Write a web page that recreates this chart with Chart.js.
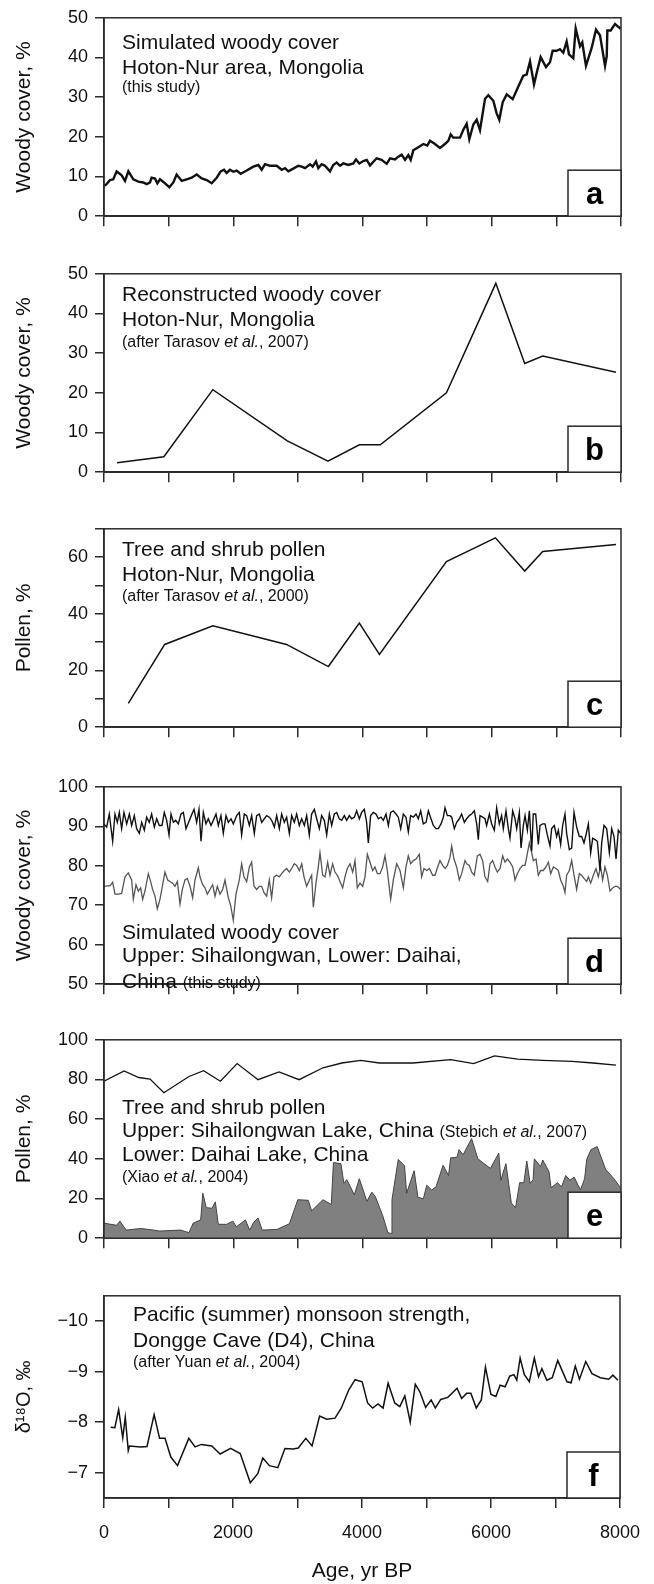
<!DOCTYPE html>
<html>
<head>
<meta charset="utf-8">
<script src="https://cdn.jsdelivr.net/npm/chart.js@4.4.1/dist/chart.umd.min.js"></script>
<style>
  body { margin: 0; background: #fff; }
  #wrap { position: relative; width: 654px; height: 1584px; overflow: hidden; }
  .panel { position: absolute; left: 0; }
</style>
</head>
<body>
<div id="wrap"></div>
<script>
// ---- shared x axis ----
const xTicks = [0, 1000, 2000, 3000, 4000, 5000, 6000, 7000, 8000];

// ---- panel a: simulated woody cover, Hoton-Nur ----
const ageA = [
  0, 31, 93, 144, 196, 273, 325, 377, 454, 531,
  608, 660, 712, 737, 789, 825, 867, 928, 1011, 1073,
  1124, 1202, 1279, 1357, 1434, 1512, 1589, 1666, 1744, 1806,
  1857, 1898, 1950, 2001, 2053, 2115, 2208, 2310, 2388, 2440,
  2491, 2569, 2672, 2750, 2801, 2852, 2929, 3007, 3059, 3110,
  3188, 3229, 3280, 3316, 3368, 3420, 3497, 3548, 3600, 3652,
  3703, 3780, 3858, 3899, 3951, 4013, 4065, 4116, 4219, 4296,
  4374, 4426, 4503, 4554, 4606, 4658, 4709, 4746, 4786, 4864,
  4941, 5003, 5044, 5121, 5199, 5276, 5328, 5365, 5405, 5509,
  5560, 5612, 5653, 5715, 5767, 5818, 5896, 5947, 6024, 6076,
  6117, 6169, 6231, 6324, 6411, 6488, 6540, 6592, 6654, 6705,
  6757, 6839, 6901, 6942, 7004, 7056, 7107, 7159, 7195, 7262,
  7299, 7366, 7401, 7458, 7546, 7613, 7675, 7753, 7779, 7789,
  7841, 7907, 7995
];
const coverA = [
  7.7, 7.9, 9.1, 9.3, 11.3, 10.3, 8.9, 11.3, 9.3, 8.7,
  8.5, 8.1, 8.5, 9.7, 9.5, 8.3, 9.3, 8.5, 7.3, 8.5,
  10.5, 8.9, 9.3, 9.7, 10.5, 9.5, 9.1, 8.3, 9.7, 11.3,
  11.7, 10.9, 11.7, 11.2, 11.5, 10.7, 11.5, 12.5, 12.9, 11.7,
  13.1, 12.7, 12.7, 11.7, 12.1, 11.3, 12.0, 12.7, 12.5, 12.1,
  13.1, 12.5, 13.8, 12.1, 13.1, 12.7, 11.3, 12.9, 13.5, 12.7,
  13.3, 12.9, 13.3, 14.3, 13.3, 13.9, 14.2, 12.8, 14.6, 14.2,
  13.2, 14.6, 14.3, 15.0, 15.5, 14.2, 15.4, 14.2, 16.6, 17.4,
  18.2, 17.8, 19.0, 18.2, 17.2, 18.2, 19.0, 20.6, 19.8, 19.8,
  21.8, 23.3, 19.4, 23.1, 24.3, 21.7, 29.6, 30.5, 29.1, 25.9,
  24.3, 28.7, 30.7, 29.5, 32.7, 35.4, 35.7, 39.0, 33.2, 36.8,
  40.1, 37.6, 38.8, 41.7, 41.7, 42.1, 41.2, 44.0, 40.8, 39.8,
  47.3, 42.8, 43.8, 37.9, 42.4, 47.0, 45.6, 37.9, 40.3, 46.8,
  46.8, 48.4, 47.2
];
const ticksA = [0, 10, 20, 30, 40, 50];

// ---- panel b: reconstructed woody cover ----
const ageB = [201, 926, 1684, 2837, 3466, 3951, 4275, 5299, 6063, 6510, 6789, 7922];
const coverB = [2.4, 3.9, 20.8, 7.9, 2.8, 6.9, 6.9, 20.0, 47.6, 27.4, 29.3, 25.2];
const ticksB = [0, 10, 20, 30, 40, 50];

// ---- panel c: tree and shrub pollen, Hoton-Nur ----
const ageC = [376, 939, 1684, 2824, 3472, 3951, 4262, 5299, 6057, 6510, 6789, 7922];
const pollenC = [8.4, 29.2, 35.8, 29.2, 21.4, 36.7, 25.7, 58.4, 66.8, 55.1, 62.0, 64.5];
const ticksC = [0, 10, 20, 30, 40, 50, 60, 70];

// ---- panel d: simulated woody cover, Sihailongwan (upper) and Daihai (lower) ----
const ageDUpper = [
  0, 41, 82, 134, 170, 206, 237, 273, 309, 351,
  392, 428, 469, 505, 547, 583, 624, 660, 701, 737,
  779, 815, 856, 897, 933, 970, 1006, 1037, 1073, 1109,
  1150, 1191, 1228, 1269, 1310, 1351, 1393, 1434, 1470, 1501,
  1537, 1578, 1614, 1656, 1692, 1733, 1769, 1810, 1846, 1888,
  1924, 1965, 2001, 2053, 2094, 2130, 2171, 2208, 2249, 2285,
  2326, 2362, 2404, 2440, 2481, 2517, 2558, 2594, 2636, 2672,
  2713, 2749, 2790, 2826, 2868, 2904, 2945, 2981, 3022, 3059,
  3100, 3136, 3177, 3213, 3255, 3291, 3332, 3368, 3409, 3446,
  3487, 3523, 3564, 3600, 3641, 3678, 3719, 3755, 3796, 3832,
  3874, 3910, 3951, 3987, 4028, 4064, 4090, 4126, 4168, 4209,
  4245, 4286, 4322, 4364, 4400, 4436, 4477, 4518, 4554, 4591,
  4632, 4673, 4709, 4745, 4787, 4828, 4864, 4900, 4941, 4983,
  5019, 5060, 5096, 5137, 5173, 5215, 5251, 5277, 5313, 5354,
  5380, 5421, 5457, 5498, 5534, 5576, 5612, 5653, 5689, 5730,
  5767, 5792, 5818, 5859, 5895, 5921, 5963, 5999, 6040, 6076,
  6117, 6153, 6179, 6220, 6257, 6282, 6324, 6360, 6386, 6427,
  6453, 6489, 6515, 6551, 6582, 6618, 6643, 6680, 6721, 6747,
  6788, 6824, 6860, 6901, 6927, 6968, 7004, 7030, 7066, 7097,
  7133, 7159, 7200, 7237, 7273, 7314, 7355, 7391, 7427, 7458,
  7495, 7531, 7562, 7598, 7634, 7675, 7701, 7737, 7778, 7820,
  7856, 7892, 7923, 7959, 7995
];
const coverDUpper = [
  90.5, 89.8, 93.1, 86.2, 93.1, 91.0, 93.5, 89.4, 93.5, 90.6,
  93.1, 90.2, 92.7, 89.4, 88.2, 91.0, 89.0, 92.3, 91.0, 93.1,
  89.8, 91.9, 90.2, 90.2, 93.5, 91.5, 87.8, 93.1, 91.0, 91.5,
  90.6, 93.1, 93.5, 89.4, 91.0, 92.7, 94.3, 91.0, 94.3, 86.2,
  93.5, 90.6, 91.9, 90.2, 91.5, 93.1, 90.2, 92.7, 88.2, 92.7,
  91.0, 91.9, 90.6, 92.7, 93.5, 87.8, 93.1, 92.7, 90.2, 92.7,
  88.2, 92.7, 93.1, 91.0, 91.9, 92.7, 92.3, 91.5, 89.8, 92.7,
  89.4, 93.1, 91.0, 92.3, 88.2, 92.7, 91.0, 93.1, 90.2, 91.9,
  90.2, 92.7, 87.8, 93.1, 94.3, 91.9, 89.4, 92.7, 91.5, 87.8,
  93.1, 90.2, 93.1, 93.5, 91.9, 91.5, 92.7, 91.5, 92.7, 91.9,
  92.3, 93.9, 91.9, 93.5, 94.3, 91.0, 85.8, 92.7, 93.5, 93.1,
  91.9, 92.3, 91.5, 93.1, 90.2, 93.5, 93.9, 93.1, 92.3, 89.4,
  93.1, 92.3, 88.6, 92.7, 92.3, 93.1, 91.9, 93.9, 90.6, 91.0,
  93.9, 91.9, 90.2, 89.4, 89.4, 90.6, 92.3, 94.7, 92.7, 92.7,
  92.3, 89.4, 91.0, 91.9, 93.1, 91.0, 91.9, 92.7, 93.1, 93.9,
  90.6, 86.6, 92.7, 92.3, 91.9, 90.2, 93.1, 90.6, 89.0, 94.7,
  90.6, 92.7, 89.4, 93.9, 89.4, 87.0, 93.9, 91.9, 89.4, 93.5,
  84.5, 90.2, 92.7, 89.0, 93.9, 83.7, 93.1, 93.1, 85.4, 90.2,
  90.6, 90.6, 87.8, 85.0, 89.4, 90.2, 87.4, 89.0, 85.4, 90.2,
  93.1, 88.2, 84.1, 84.5, 93.5, 89.8, 87.4, 87.4, 85.8, 87.8,
  90.6, 83.3, 87.0, 86.6, 86.2, 78.8, 85.8, 90.2, 89.4, 83.3,
  89.4, 87.4, 81.7, 89.0, 88.2
];
const ageDLower = [
  0, 51, 93, 134, 170, 222, 273, 325, 376, 428,
  454, 495, 531, 567, 598, 634, 686, 722, 753, 789,
  825, 866, 908, 944, 985, 1021, 1062, 1099, 1135, 1176,
  1212, 1253, 1289, 1331, 1372, 1408, 1460, 1485, 1527, 1563,
  1599, 1640, 1681, 1718, 1754, 1795, 1836, 1872, 1924, 1960,
  2001, 2042, 2094, 2130, 2166, 2208, 2249, 2285, 2321, 2362,
  2404, 2440, 2476, 2517, 2558, 2594, 2630, 2672, 2713, 2749,
  2790, 2826, 2868, 2904, 2945, 2981, 3022, 3059, 3095, 3136,
  3177, 3213, 3239, 3280, 3316, 3342, 3384, 3420, 3461, 3497,
  3538, 3574, 3611, 3652, 3693, 3729, 3765, 3807, 3848, 3884,
  3920, 3961, 4003, 4039, 4075, 4116, 4157, 4193, 4230, 4271,
  4312, 4348, 4384, 4436, 4477, 4529, 4580, 4632, 4673, 4709,
  4745, 4787, 4828, 4879, 4915, 4952, 4993, 5034, 5086, 5122,
  5163, 5199, 5240, 5277, 5313, 5354, 5380, 5416, 5457, 5498,
  5534, 5586, 5612, 5653, 5689, 5730, 5777, 5818, 5859, 5895,
  5937, 5973, 6014, 6050, 6086, 6128, 6169, 6205, 6241, 6282,
  6324, 6360, 6396, 6437, 6478, 6515, 6540, 6582, 6618, 6643,
  6685, 6721, 6757, 6798, 6839, 6876, 6912, 6953, 6994, 7030,
  7066, 7108, 7133, 7159, 7200, 7237, 7273, 7314, 7355, 7391,
  7427, 7469, 7495, 7531, 7572, 7613, 7649, 7685, 7716, 7752,
  7789, 7830, 7871, 7907, 7943, 7995
];
const coverDLower = [
  74.8, 74.9, 74.9, 75.8, 72.8, 72.8, 73.0, 77.2, 78.2, 76.4,
  71.5, 75.2, 73.6, 74.4, 71.5, 73.6, 78.0, 76.0, 74.0, 72.3,
  69.1, 71.5, 75.2, 78.4, 76.4, 76.0, 75.6, 74.8, 76.0, 70.3,
  74.0, 76.4, 76.8, 74.8, 71.9, 76.4, 79.5, 77.2, 75.2, 74.4,
  72.8, 74.0, 75.2, 72.3, 74.8, 72.8, 74.0, 76.4, 71.9, 69.9,
  66.2, 72.8, 76.4, 80.5, 77.2, 76.0, 79.7, 80.9, 74.8, 74.0,
  74.8, 74.8, 73.2, 72.3, 76.4, 71.9, 77.2, 77.6, 77.2, 78.0,
  78.8, 79.3, 78.4, 79.3, 80.5, 80.1, 78.8, 80.5, 77.2, 74.8,
  76.4, 77.6, 69.5, 75.6, 79.7, 83.3, 77.6, 77.2, 80.9, 77.6,
  80.5, 78.4, 77.6, 76.0, 74.4, 77.2, 79.3, 80.5, 78.4, 81.3,
  74.4, 75.6, 74.8, 77.2, 82.9, 80.9, 78.8, 79.7, 78.0, 78.0,
  79.7, 82.5, 78.8, 71.5, 76.4, 80.5, 78.8, 74.4, 79.7, 82.5,
  80.5, 81.3, 81.7, 82.9, 77.2, 79.3, 78.8, 79.3, 77.6, 77.6,
  79.7, 81.3, 80.1, 79.3, 80.1, 82.1, 85.0, 81.7, 79.7, 76.4,
  78.0, 81.3, 80.5, 80.1, 78.4, 77.6, 82.5, 82.9, 81.3, 77.2,
  76.0, 80.5, 81.3, 79.7, 78.4, 79.3, 82.5, 80.9, 81.7, 80.9,
  79.7, 76.4, 78.0, 79.3, 80.1, 80.1, 82.1, 85.8, 83.3, 81.3,
  81.7, 77.6, 78.8, 78.8, 79.7, 80.9, 78.0, 79.7, 79.3, 78.8,
  76.4, 74.8, 73.2, 77.6, 78.8, 81.3, 77.6, 74.0, 78.0, 77.6,
  76.8, 76.0, 77.2, 75.6, 77.6, 79.3, 77.2, 79.7, 76.4, 79.7,
  77.6, 73.6, 74.4, 74.8, 74.8, 74.0
];
const ticksD = [50, 60, 70, 80, 90, 100];

// ---- panel e: tree and shrub pollen, Sihailongwan (upper) and Daihai (lower) ----
const ageEUpper = [
  0, 311, 538, 713, 926, 1315, 1542, 1801, 2060, 2384,
  2708, 3019, 3388, 3680, 3971, 4262, 4781, 5364, 5720, 6044,
  6401, 6789, 7243, 7567, 7922
];
const pollenEUpper = [
  79.1, 84.3, 81.0, 80.2, 73.3, 81.5, 84.4, 79.1, 88.0, 79.9,
  83.8, 79.9, 85.9, 88.3, 89.6, 88.3, 88.3, 90.0, 88.0, 91.9,
  90.3, 89.6, 89.1, 88.3, 87.2
];
const ageELower = [
  0, 194, 246, 343, 570, 764, 862, 1186, 1315, 1380,
  1496, 1529, 1581, 1671, 1723, 1768, 1898, 1995, 2047, 2189,
  2254, 2319, 2384, 2448, 2675, 2869, 2999, 3161, 3213, 3388,
  3517, 3550, 3666, 3712, 3757, 3874, 3951, 4068, 4145, 4197,
  4314, 4392, 4443, 4456, 4553, 4650, 4683, 4799, 4858, 4942,
  4994, 5072, 5137, 5247, 5331, 5364, 5461, 5494, 5558, 5623,
  5688, 5785, 5979, 6109, 6141, 6219, 6303, 6368, 6432, 6497,
  6542, 6594, 6640, 6659, 6756, 6789, 6886, 6918, 7016, 7080,
  7145, 7210, 7275, 7372, 7437, 7469, 7534, 7631, 7761, 7890,
  8000
];
const pollenELower = [
  7.6, 6.5, 8.6, 4.1, 4.9, 4.1, 3.6, 4.1, 2.8, 7.6,
  9.2, 22.7, 15.4, 15.1, 18.3, 7.0, 7.0, 8.6, 5.7, 9.2,
  4.1, 8.1, 10.2, 4.1, 4.4, 7.3, 19.4, 19.1, 13.8, 19.4,
  17.0, 38.1, 37.6, 27.6, 29.5, 21.9, 30.0, 18.6, 23.2, 21.1,
  11.3, 2.8, 2.4, 19.4, 39.7, 36.5, 22.7, 34.0, 20.6, 19.9,
  26.7, 24.3, 25.9, 36.8, 31.6, 40.5, 40.8, 44.6, 42.1, 46.2,
  50.2, 40.0, 35.2, 42.9, 29.2, 37.6, 17.8, 15.4, 28.0, 27.9,
  38.9, 27.6, 29.5, 40.0, 36.1, 39.4, 33.5, 25.4, 28.0, 25.9,
  31.6, 29.2, 30.8, 24.3, 30.0, 39.7, 44.6, 46.2, 34.8, 30.0,
  25.1
];
const ticksE = [0, 20, 40, 60, 80, 100];

// ---- panel f: Dongge Cave d18O ----
const ageF = [
  104, 168, 227, 291, 330, 376, 395, 570, 667, 777,
  862, 946, 1036, 1140, 1315, 1412, 1509, 1671, 1801, 1963,
  2112, 2268, 2384, 2462, 2565, 2695, 2805, 2934, 3012, 3129,
  3226, 3343, 3453, 3582, 3680, 3796, 3893, 4003, 4087, 4165,
  4249, 4327, 4405, 4508, 4586, 4664, 4748, 4826, 4897, 4987,
  5072, 5137, 5221, 5331, 5474, 5545, 5623, 5688, 5772, 5850,
  5914, 5999, 6076, 6141, 6219, 6290, 6355, 6400, 6452, 6517,
  6594, 6672, 6737, 6789, 6866, 6950, 7035, 7113, 7178, 7243,
  7307, 7372, 7469, 7566, 7696, 7825, 7890, 7968
];
const d18oF = [
  -7.90, -7.89, -8.25, -7.69, -8.10, -7.44, -7.53, -7.51, -7.52, -8.15,
  -7.68, -7.68, -7.31, -7.14, -7.68, -7.51, -7.56, -7.53, -7.37, -7.48,
  -7.38, -6.80, -6.98, -7.29, -7.14, -7.10, -7.48, -7.47, -7.49, -7.68,
  -7.53, -8.12, -8.06, -8.08, -8.28, -8.64, -8.84, -8.80, -8.38, -8.28,
  -8.36, -8.28, -8.77, -8.38, -8.31, -8.52, -8.00, -8.75, -8.60, -8.29,
  -8.44, -8.28, -8.45, -8.49, -8.67, -8.47, -8.57, -8.57, -8.28, -8.44,
  -9.09, -8.55, -8.51, -8.73, -8.70, -8.91, -8.94, -8.83, -9.27, -8.94,
  -8.80, -9.27, -8.90, -9.06, -8.83, -8.88, -9.22, -8.99, -8.80, -8.78,
  -9.11, -8.85, -9.20, -8.96, -8.88, -8.85, -8.93, -8.83
];
const ticksF = [-10, -9, -8, -7];

// ---- drawing ----
const FONT = '"Liberation Sans", Arial, Helvetica, sans-serif';
const INK = '#2a2a2a';
const BIG = '21px ' + FONT;
const SMALL = '16px ' + FONT;
const SMALL_I = 'italic 16px ' + FONT;

function pts(xs, ys) {
  return xs.map((x, i) => ({ x: x, y: ys[i] }));
}

function drawRuns(ctx, x, y, runs) {
  runs.forEach(([txt, font]) => {
    ctx.font = font;
    ctx.fillText(txt, x, y);
    x += ctx.measureText(txt).width;
  });
}

// frame box, panel letter and the text notes inside the plot
function decoPlugin(p) {
  return {
    id: 'deco',
    afterDatasetsDraw(chart) {
      const { ctx, chartArea: a } = chart;
      ctx.save();
      ctx.strokeStyle = INK;
      ctx.lineWidth = 1.5;
      ctx.strokeRect(a.left, a.top, a.right - a.left, a.bottom - a.top);

      const bw = 53, bh = 46;
      ctx.fillStyle = '#fff';
      ctx.fillRect(a.right - bw, a.bottom - bh, bw, bh);
      ctx.strokeRect(a.right - bw, a.bottom - bh, bw, bh);
      ctx.fillStyle = '#000';
      ctx.font = 'bold 31px ' + FONT;
      ctx.textAlign = 'center';
      ctx.textBaseline = 'alphabetic';
      ctx.fillText(p.letter, a.right - bw / 2, a.bottom - 12);

      ctx.textAlign = 'left';
      ctx.fillStyle = '#111';
      p.notes.forEach(n => drawRuns(ctx, a.left + p.noteX, a.top + n.dy, n.runs));
      ctx.restore();
    }
  };
}

const wrap = document.getElementById('wrap');

function makePanel(p) {
  const div = document.createElement('div');
  div.className = 'panel';
  div.style.top = p.top + 'px';
  const cv = document.createElement('canvas');
  cv.width = 654;
  cv.height = p.height;
  cv.style.width = '654px';
  cv.style.height = p.height + 'px';
  div.appendChild(cv);
  wrap.appendChild(div);

  new Chart(cv, {
    type: 'line',
    data: { datasets: p.datasets },
    options: {
      responsive: false,
      animation: false,
      events: [],
      layout: { padding: { top: 14, right: 33, bottom: 0, left: 0 } },
      plugins: { legend: { display: false }, tooltip: { enabled: false } },
      elements: { point: { radius: 0 }, line: { tension: 0 } },
      scales: {
        x: {
          type: 'linear',
          min: 0,
          max: 8000,
          afterBuildTicks: s => { s.ticks = xTicks.map(v => ({ value: v })); },
          afterFit: s => { s.height = p.xh; },
          grid: { drawOnChartArea: false, drawTicks: true, tickLength: 10, color: INK, lineWidth: 1.5 },
          border: { display: true, color: INK, width: 1.5 },
          ticks: {
            display: !!p.xLabels,
            padding: 14,
            color: '#111',
            font: { family: FONT, size: 18 },
            maxRotation: 0,
            callback: v => (v % 2000 === 0 ? String(v) : '')
          },
          title: {
            display: !!p.xLabels,
            text: 'Age, yr BP',
            color: '#111',
            font: { family: FONT, size: 21 },
            padding: { top: 0, bottom: 0 }
          }
        },
        y: {
          type: 'linear',
          min: p.yMin,
          max: p.yMax,
          reverse: !!p.reverse,
          afterBuildTicks: s => { s.ticks = p.yTicks.map(v => ({ value: v })); },
          afterFit: s => { s.width = 104; },
          grid: { drawOnChartArea: false, drawTicks: true, tickLength: 9, color: INK, lineWidth: 1.5 },
          border: { display: true, color: INK, width: 1.5 },
          ticks: {
            padding: 7,
            color: '#111',
            font: { family: FONT, size: 18 },
            callback: p.yLabel
          },
          title: {
            display: true,
            text: p.yTitle,
            color: '#111',
            font: { family: FONT, size: p.yTitleSize || 21 },
            padding: { top: 12, bottom: 0 }
          }
        }
      }
    },
    plugins: [decoPlugin(p)]
  });
}

const plain = v => String(v);

makePanel({
  top: 0, height: 234, xh: 14,
  yMin: 0, yMax: 50, yTicks: ticksA, yLabel: plain, yTitle: 'Woody cover, %',
  letter: 'a', noteX: 18,
  notes: [
    { dy: 31, runs: [['Simulated woody cover', BIG]] },
    { dy: 56, runs: [['Hoton-Nur area, Mongolia', BIG]] },
    { dy: 74.5, runs: [['(this study)', SMALL]] }
  ],
  datasets: [{ data: pts(ageA, coverA), borderColor: '#111', borderWidth: 2.4 }]
});

makePanel({
  top: 256, height: 234, xh: 14,
  yMin: 0, yMax: 50, yTicks: ticksB, yLabel: plain, yTitle: 'Woody cover, %',
  letter: 'b', noteX: 18,
  notes: [
    { dy: 27.5, runs: [['Reconstructed woody cover', BIG]] },
    { dy: 52.5, runs: [['Hoton-Nur, Mongolia', BIG]] },
    { dy: 73, runs: [['(after Tarasov ', SMALL], ['et al.', SMALL_I], [', 2007)', SMALL]] }
  ],
  datasets: [{ data: pts(ageB, coverB), borderColor: '#111', borderWidth: 1.5 }]
});

makePanel({
  top: 511, height: 234, xh: 14,
  yMin: 0, yMax: 70, yTicks: ticksC, yLabel: v => (v % 20 === 0 ? String(v) : ''), yTitle: 'Pollen, %',
  letter: 'c', noteX: 18,
  notes: [
    { dy: 27, runs: [['Tree and shrub pollen', BIG]] },
    { dy: 52, runs: [['Hoton-Nur, Mongolia', BIG]] },
    { dy: 72, runs: [['(after Tarasov ', SMALL], ['et al.', SMALL_I], [', 2000)', SMALL]] }
  ],
  datasets: [{ data: pts(ageC, pollenC), borderColor: '#111', borderWidth: 1.5 }]
});

makePanel({
  top: 769, height: 233, xh: 14,
  yMin: 50, yMax: 100, yTicks: ticksD, yLabel: plain, yTitle: 'Woody cover, %',
  letter: 'd', noteX: 18,
  notes: [
    { dy: 152, runs: [['Simulated woody cover', BIG]] },
    { dy: 175.5, runs: [['Upper: Sihailongwan, Lower: Daihai,', BIG]] },
    { dy: 201.5, runs: [['China ', BIG], ['(this study)', SMALL]] }
  ],
  datasets: [
    { data: pts(ageDUpper, coverDUpper), borderColor: '#111', borderWidth: 1.4 },
    { data: pts(ageDLower, coverDLower), borderColor: '#555', borderWidth: 1.3 }
  ]
});

makePanel({
  top: 1022, height: 234, xh: 14,
  yMin: 0, yMax: 100, yTicks: ticksE, yLabel: plain, yTitle: 'Pollen, %',
  letter: 'e', noteX: 18,
  notes: [
    { dy: 74, runs: [['Tree and shrub pollen', BIG]] },
    { dy: 97.5, runs: [['Upper: Sihailongwan Lake, China ', BIG], ['(Stebich ', SMALL], ['et al.', SMALL_I], [', 2007)', SMALL]] },
    { dy: 121, runs: [['Lower: Daihai Lake, China', BIG]] },
    { dy: 142.5, runs: [['(Xiao ', SMALL], ['et al.', SMALL_I], [', 2004)', SMALL]] }
  ],
  datasets: [
    { data: pts(ageELower, pollenELower), borderColor: '#444', borderWidth: 1, fill: 'origin', backgroundColor: '#808080' },
    { data: pts(ageEUpper, pollenEUpper), borderColor: '#111', borderWidth: 1.3 }
  ]
});

makePanel({
  top: 1278, height: 306, xh: 86, xLabels: true,
  yMin: -10.5, yMax: -6.5, reverse: true, yTicks: ticksF,
  yLabel: v => String(v).replace('-', '\u2212'), yTitle: 'δ¹⁸O, ‰', yTitleSize: 20,
  letter: 'f', noteX: 29,
  notes: [
    { dy: 25.5, runs: [['Pacific (summer) monsoon strength,', BIG]] },
    { dy: 51, runs: [['Dongge Cave (D4), China', BIG]] },
    { dy: 71.5, runs: [['(after Yuan ', SMALL], ['et al.', SMALL_I], [', 2004)', SMALL]] }
  ],
  datasets: [{ data: pts(ageF, d18oF), borderColor: '#111', borderWidth: 1.5 }]
});
</script>
</body>
</html>
